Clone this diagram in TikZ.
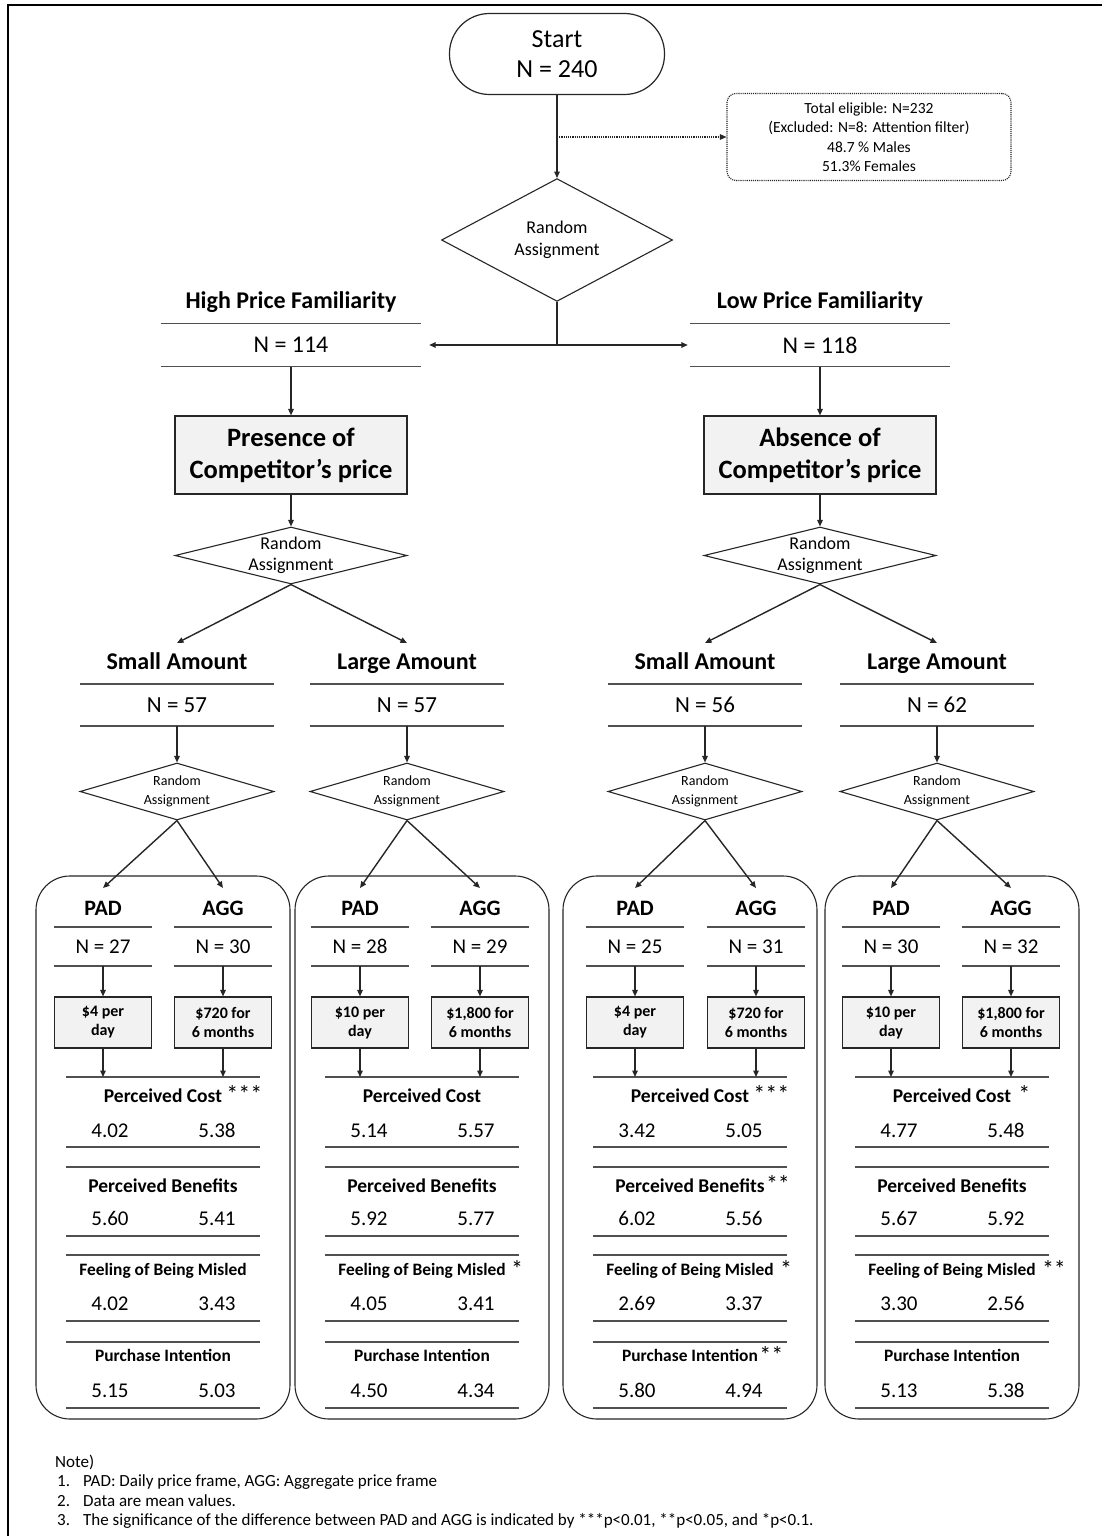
\documentclass[tikz,border=0pt]{standalone}
\usepackage{fontspec}
\setmainfont{Carlito}
\usetikzlibrary{arrows.meta,shapes.geometric}

\definecolor{boxfill}{HTML}{F2F2F2}
\definecolor{ink}{HTML}{262626}
\definecolor{rulegray}{HTML}{505050}

\newcommand\fsz[2]{\fontsize{#1}{#2}\selectfont}

% second-level arm: heading, sample size, arrow in, random-assignment diamond
\newcommand\subarm[5]{%
  \node[armhead] (#1h) at (#2,663) {#3};
  \node[armN] (#1n) at (#2,705) {N = #4};
  \draw[rule] (#1n.north west) -- (#1n.north east);
  \draw[rule] (#1n.south west) -- (#1n.south east);
  \coordinate (#1tip) at (#2,643);
  \draw[arr] (#5.south) -- (#1tip);
  \node[diasmall] (#1d) at (#2,791.5) {};
  \node[diasmalltext] (#1dt) at (#1d) {Random\\Assignment};
  \draw[arr] (#1n) -- (#1d);
}

% price-frame column: label, sample size, price box, arrows
\newcommand\cond[6]{%
  \node[condhead] (#1h) at (#2,908) {#3};
  \node[condN] (#1n) at (#2,946.5) {N = #4};
  \draw[rule] (#1n.north west) -- (#1n.north east);
  \draw[rule] (#1n.south west) -- (#1n.south east);
  \coordinate (#1tip) at (#2,888);
  \draw[arr] (#6.south) -- (#1tip);
  \node[pricebox] (#1p) at (#2,1022.5) {#5};
  \draw[arr] (#1n) -- (#1p);
  \coordinate (#1end) at (#2,1077);
  \draw[arr] (#1p) -- (#1end);
}

\begin{document}
\begin{tikzpicture}[x=1pt,y=-1pt,
  every node/.style={inner sep=0pt, align=center, text=black},
  arr/.style={draw=ink, line width=1.4pt, -{Triangle[length=6.5pt,width=5.5pt]}},
  link/.style={draw=ink, line width=1.4pt},
  dotarr/.style={draw=ink, line width=1.2pt, densely dotted, -{Triangle[length=6.5pt,width=5.5pt]}},
  rule/.style={draw=rulegray, line width=1.5pt},
  frame/.style={draw=black, line width=1.6pt},
  startbox/.style={draw=ink, line width=1.2pt, rounded corners=40pt, minimum width=215pt, minimum height=81pt, font=\fsz{26}{30}},
  eligbox/.style={draw=ink, line width=1.1pt, densely dotted, rounded corners=9pt, minimum width=284pt, minimum height=87pt, font=\fsz{15.5}{19.5}},
  diabig/.style={diamond, draw=ink, line width=1.1pt, minimum width=231pt, minimum height=86pt, font=\fsz{18}{22}},
  diamid/.style={diamond, draw=ink, line width=1.1pt, minimum width=232pt, minimum height=57pt},
  diamidtext/.style={font=\fsz{18}{21}},
  diasmall/.style={diamond, draw=ink, line width=1.1pt, minimum width=194pt, minimum height=57pt},
  diasmalltext/.style={font=\fsz{14}{18.5}},
  famhead/.style={font=\bfseries\fsz{24}{28}, text height=17pt, text depth=5pt},
  famN/.style={minimum width=260pt, minimum height=43pt, font=\fsz{24}{28}},
  condbox/.style={draw=ink, fill=boxfill, line width=1.1pt, minimum width=232pt, minimum height=78pt, font=\bfseries\fsz{26.5}{32}},
  armhead/.style={font=\bfseries\fsz{24}{28}, text height=17pt, text depth=5pt},
  armN/.style={minimum width=194pt, minimum height=42pt, font=\fsz{23}{27}},
  condhead/.style={font=\bfseries\fsz{22}{26}},
  condN/.style={minimum width=97pt, minimum height=39pt, font=\fsz{21}{25}},
  pricebox/.style={draw=ink, fill=boxfill, line width=1.1pt, minimum width=97pt, minimum height=51pt, font=\bfseries\fsz{16}{19}},
  grpbox/.style={draw=ink, line width=1.1pt, rounded corners=34pt, minimum width=254pt, minimum height=543pt},
  mhead/.style={font=\bfseries\fsz{19.5}{23}},
  mheadsm/.style={font=\bfseries\fsz{17.4}{20}, text height=12.5pt, text depth=4pt},
  val/.style={font=\fsz{21}{25}, text height=13.5pt, text depth=0pt},
  sig/.style={font=\fsz{24}{28}, anchor=west},
  notetext/.style={font=\fsz{17}{20}, anchor=base west}
]

% page and frame
\fill[white] (0,0) rectangle (1102,1536);
\useasboundingbox (0,0) rectangle (1102,1536);
\draw[frame] (8,1536) -- (8,5) -- (1102,5);

% entry of the study
\node[startbox] (start) at (557,54) {Start\\N = 240};
\node[eligbox] (elig) at (869,137) {Total eligible: N=232\\(Excluded: N=8: Attention filter)\\48.7 \% Males\\51.3\% Females};
\node[diabig] (ra) at (557,240) {Random\\Assignment};
\coordinate (tap) at (557,137);
\draw[arr] (start) -- (ra);
\draw[dotarr] (tap) -- (elig.west);

% price familiarity split
\coordinate (split) at (557,345);
\draw[link] (ra.south) -- (split);

\node[famhead] (hpf) at (291,302) {High Price Familiarity};
\node[famN] (hpfN) at (291,345) {N = 114};
\draw[rule] (hpfN.north west) -- (hpfN.north east);
\draw[rule] (hpfN.south west) -- (hpfN.south east);

\node[famhead] (lpf) at (820,302) {Low Price Familiarity};
\node[famN] (lpfN) at (820,345) {N = 118};
\draw[rule] (lpfN.north west) -- (lpfN.north east);
\draw[rule] (lpfN.south west) -- (lpfN.south east);

\draw[arr] (split) -- ([xshift=8pt]hpfN.east);
\draw[arr] (split) -- ([xshift=-2pt]lpfN.west);

% competitor's price condition
\node[condbox] (pres) at (291,455) {Presence of\\Competitor’s price};
\node[condbox] (absn) at (820,455) {Absence of\\Competitor’s price};
\draw[arr] (hpfN) -- (pres);
\draw[arr] (lpfN) -- (absn);

\node[diamid] (dL) at (291,555.5) {};
\node[diamidtext] (dLt) at (dL) {Random\\Assignment};
\node[diamid] (dR) at (820,555.5) {};
\node[diamidtext] (dRt) at (dR) {Random\\Assignment};
\draw[arr] (pres) -- (dL);
\draw[arr] (absn) -- (dR);

% amount arms
\subarm{aLS}{177}{Small Amount}{57}{dL}
\subarm{aLL}{407}{Large Amount}{57}{dL}
\subarm{aRS}{705}{Small Amount}{56}{dR}
\subarm{aRL}{937}{Large Amount}{62}{dR}

% group frames and outcome measures
\foreach \g/\vc/\pa/\pb/\ba/\bb/\fa/\fb/\ia/\ib in {
  1/163/4.02/5.38/5.60/5.41/4.02/3.43/5.15/5.03,
  2/422/5.14/5.57/5.92/5.77/4.05/3.41/4.50/4.34,
  3/690/3.42/5.05/6.02/5.56/2.69/3.37/5.80/4.94,
  4/952/4.77/5.48/5.67/5.92/3.30/2.56/5.13/5.38}{
  \node[grpbox] (box\g) at (\vc,1147.5) {};
  \foreach \yy in {1077,1147,1167,1236,1255,1321,1342,1408}
    \draw[rule] ({\vc-97},\yy) -- ({\vc+97},\yy);
  \node[mhead] (pc\g) at (\vc,1096) {Perceived Cost};
  \node[val] (pca\g) at ({\vc-53},1131) {\pa};
  \node[val] (pcb\g) at ({\vc+54},1131) {\pb};
  \node[mhead] (pb\g) at (\vc,1186) {Perceived Benefits};
  \node[val] (pba\g) at ({\vc-53},1219) {\ba};
  \node[val] (pbb\g) at ({\vc+54},1219) {\bb};
  \node[mheadsm] (fm\g) at (\vc,1271) {Feeling of Being Misled};
  \node[val] (fma\g) at ({\vc-53},1304) {\fa};
  \node[val] (fmb\g) at ({\vc+54},1304) {\fb};
  \node[mheadsm] (pi\g) at (\vc,1357) {Purchase Intention};
  \node[val] (pia\g) at ({\vc-53},1391) {\ia};
  \node[val] (pib\g) at ({\vc+54},1391) {\ib};
}

% price-frame columns
\cond{c1p}{103}{PAD}{27}{\$4 per\\day}{aLSd}
\cond{c1a}{223}{AGG}{30}{\$720 for\\6 months}{aLSd}
\cond{c2p}{360}{PAD}{28}{\$10 per\\day}{aLLd}
\cond{c2a}{480}{AGG}{29}{\$1,800 for\\6 months}{aLLd}
\cond{c3p}{635}{PAD}{25}{\$4 per\\day}{aRSd}
\cond{c3a}{756}{AGG}{31}{\$720 for\\6 months}{aRSd}
\cond{c4p}{891}{PAD}{30}{\$10 per\\day}{aRLd}
\cond{c4a}{1011}{AGG}{32}{\$1,800 for\\6 months}{aRLd}

% significance marks
\node[sig] (s1) at ([xshift=4pt,yshift=2pt]pc1.east) {***};
\node[sig] (s2) at ([xshift=4pt,yshift=2pt]pc3.east) {***};
\node[sig] (s3) at ([xshift=7pt,yshift=2pt]pc4.east) {*};
\node[sig] (s4) at ([xshift=1pt,yshift=2pt]pb3.east) {**};
\node[sig] (s5) at ([xshift=5pt,yshift=2pt]fm2.east) {*};
\node[sig] (s6) at ([xshift=6pt,yshift=2pt]fm3.east) {*};
\node[sig] (s7) at ([xshift=6pt,yshift=2pt]fm4.east) {**};
\node[sig] (s8) at ([xshift=1pt,yshift=2pt]pi3.east) {**};

% notes
\node[notetext] (nt0) at (55,1467) {Note)};
\node[notetext] (nn1) at (57,1486) {1.};
\node[notetext] (nx1) at (83,1486) {PAD: Daily price frame, AGG: Aggregate price frame};
\node[notetext] (nn2) at (57,1506) {2.};
\node[notetext] (nx2) at (83,1506) {Data are mean values.};
\node[notetext] (nn3) at (57,1525) {3.};
\node[notetext] (nx3) at (83,1525) {The significance of the difference between PAD and AGG is indicated by ***p<0.01, **p<0.05, and *p<0.1.};
\end{tikzpicture}
\end{document}
